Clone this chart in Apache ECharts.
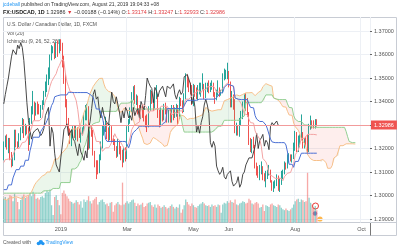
<!DOCTYPE html>
<html>
<head>
<meta charset="utf-8">
<script src="https://cdn.jsdelivr.net/npm/echarts@6/dist/echarts.min.js"></script>
<style>
html, body { margin: 0; padding: 0; background: #fff; }
#chart { width: 400px; height: 251px; }
</style>
</head>
<body>
<div id="chart"></div>
<script>
// daily bars, FXCM USDCAD, 2018-11-09 .. 2019-08-21, then empty future bars
var barCount = 238;
var tickIdx = [37, 80, 123, 146, 189, 232];
var tickText = ['2019', 'Mar', 'May', 'Jun', 'Aug', 'Oct'];
var lastPrice = 1.32986;
var lagShift = 25;   // lagging span drawn 25 bars back, as TradingView does

var openP = [
1.3160,1.3220,1.3230,1.3210,1.3230,1.3170,1.3130,1.3155,1.3270,1.3215,
1.3210,1.3255,1.3280,1.3320,1.3260,1.3290,1.3285,1.3230,1.3320,1.3370,
1.3385,1.3345,1.3385,1.3380,1.3360,1.3370,1.3390,1.3430,1.3465,1.3500,
1.3505,1.3590,1.3620,1.3625,1.3600,1.3640,1.3625,1.3650,1.3630,1.3575,
1.3490,1.3395,1.3320,1.3275,1.3240,1.3265,1.3275,1.3270,1.3285,1.3270,
1.3255,1.3265,1.3285,1.3340,1.3340,1.3375,1.3210,1.3290,1.3265,1.3180,
1.3130,1.3115,1.3100,1.3160,1.3215,1.3280,1.3290,1.3305,1.3255,1.3250,
1.3280,1.3240,1.3230,1.3200,1.3170,1.3220,1.3185,1.3170,1.3150,1.3190,
1.3160,1.3285,1.3315,1.3370,1.3430,1.3450,1.3410,1.3420,1.3360,1.3330,
1.3375,1.3340,1.3320,1.3310,1.3300,1.3370,1.3440,1.3400,1.3390,1.3420,
1.3420,1.3355,1.3310,1.3360,1.3330,1.3375,1.3360,1.3330,1.3340,1.3320,
1.3375,1.3340,1.3360,1.3370,1.3330,1.3400,1.3395,1.3365,1.3425,1.3500,
1.3480,1.3465,1.3455,1.3395,1.3460,1.3445,1.3420,1.3445,1.3450,1.3465,
1.3470,1.3420,1.3465,1.3470,1.3455,1.3460,1.3475,1.3430,1.3410,1.3435,
1.3450,1.3430,1.3440,1.3505,1.3510,1.3515,1.3515,1.3475,1.3390,1.3420,
1.3375,1.3270,1.3295,1.3265,1.3310,1.3335,1.3385,1.3410,1.3385,1.3350,
1.3225,1.3205,1.3230,1.3210,1.3125,1.3105,1.3090,1.3100,1.3120,1.3080,
1.3070,1.3090,1.3095,1.3105,1.3060,1.3040,1.3040,1.3055,1.3080,1.3035,
1.3050,1.3090,1.3100,1.3130,1.3125,1.3160,1.3165,1.3160,1.3165,1.3210,
1.3265,1.3200,1.3235,1.3245,1.3260,1.3210,1.3235,1.3225,1.3195,1.3295,
1.3310,1.3300,1.3295,1.33174
];
var highP = [
1.3230,1.3255,1.3260,1.3245,1.3245,1.3185,1.3170,1.3280,1.3280,1.3230,
1.3265,1.3290,1.3330,1.3325,1.3305,1.3300,1.3290,1.3330,1.3380,1.3445,
1.3400,1.3395,1.3400,1.3390,1.3385,1.3405,1.3445,1.3485,1.3515,1.3545,
1.3600,1.3640,1.3635,1.3650,1.3655,1.3660,1.3665,1.3665,1.3650,1.3595,
1.3520,1.3410,1.3330,1.3285,1.3275,1.3295,1.3300,1.3300,1.3290,1.3285,
1.3290,1.3290,1.3345,1.3385,1.3390,1.3380,1.3305,1.3300,1.3280,1.3190,
1.3150,1.3150,1.3175,1.3230,1.3300,1.3315,1.3335,1.3310,1.3290,1.3305,
1.3295,1.3255,1.3240,1.3210,1.3240,1.3230,1.3210,1.3195,1.3205,1.3205,
1.3295,1.3325,1.3375,1.3440,1.3465,1.3470,1.3430,1.3425,1.3385,1.3385,
1.3385,1.3365,1.3340,1.3345,1.3380,1.3450,1.3445,1.3410,1.3440,1.3470,
1.3425,1.3365,1.3375,1.3365,1.3390,1.3395,1.3375,1.3365,1.3370,1.3385,
1.3385,1.3375,1.3390,1.3385,1.3420,1.3415,1.3405,1.3435,1.3520,1.3515,
1.3495,1.3480,1.3470,1.3475,1.3470,1.3460,1.3470,1.3480,1.3480,1.3520,
1.3475,1.3480,1.3480,1.3490,1.3480,1.3490,1.3480,1.3440,1.3450,1.3490,
1.3460,1.3450,1.3520,1.3540,1.3535,1.3565,1.3530,1.3485,1.3445,1.3430,
1.3410,1.3310,1.3300,1.3330,1.3360,1.3400,1.3430,1.3435,1.3415,1.3355,
1.3245,1.3240,1.3250,1.3215,1.3140,1.3125,1.3130,1.3145,1.3125,1.3095,
1.3105,1.3110,1.3130,1.3110,1.3065,1.3060,1.3065,1.3090,1.3085,1.3075,
1.3105,1.3110,1.3145,1.3140,1.3175,1.3180,1.3175,1.3175,1.3225,1.3275,
1.3270,1.3255,1.3260,1.3345,1.3270,1.3245,1.3250,1.3260,1.3305,1.3340,
1.3320,1.3320,1.3325,1.33247
];
var lowP = [
1.3150,1.3205,1.3195,1.3180,1.3150,1.3120,1.3125,1.3150,1.3205,1.3200,
1.3205,1.3235,1.3265,1.3245,1.3255,1.3260,1.3190,1.3215,1.3305,1.3345,
1.3320,1.3340,1.3345,1.3345,1.3330,1.3365,1.3385,1.3420,1.3440,1.3470,
1.3495,1.3575,1.3605,1.3580,1.3585,1.3590,1.3605,1.3615,1.3545,1.3475,
1.3375,1.3300,1.3260,1.3220,1.3210,1.3245,1.3245,1.3235,1.3230,1.3245,
1.3225,1.3255,1.3270,1.3320,1.3320,1.3195,1.3200,1.3250,1.3170,1.3120,
1.3070,1.3090,1.3095,1.3150,1.3200,1.3255,1.3270,1.3240,1.3230,1.3235,
1.3225,1.3215,1.3190,1.3160,1.3165,1.3175,1.3150,1.3120,1.3140,1.3145,
1.3155,1.3270,1.3305,1.3355,1.3405,1.3390,1.3385,1.3345,1.3320,1.3325,
1.3330,1.3315,1.3290,1.3270,1.3290,1.3360,1.3390,1.3360,1.3370,1.3410,
1.3330,1.3290,1.3300,1.3315,1.3320,1.3345,1.3310,1.3310,1.3310,1.3310,
1.3320,1.3330,1.3335,1.3300,1.3325,1.3380,1.3350,1.3355,1.3410,1.3460,
1.3440,1.3430,1.3385,1.3380,1.3420,1.3410,1.3405,1.3430,1.3420,1.3450,
1.3410,1.3415,1.3440,1.3435,1.3440,1.3450,1.3420,1.3390,1.3405,1.3425,
1.3420,1.3425,1.3435,1.3490,1.3495,1.3495,1.3460,1.3375,1.3375,1.3365,
1.3265,1.3255,1.3255,1.3250,1.3300,1.3325,1.3370,1.3360,1.3335,1.3215,
1.3185,1.3180,1.3200,1.3115,1.3085,1.3075,1.3065,1.3090,1.3065,1.3060,
1.3035,1.3070,1.3085,1.3055,1.3020,1.3015,1.3030,1.3040,1.3020,1.3015,
1.3045,1.3070,1.3090,1.3110,1.3115,1.3140,1.3145,1.3140,1.3155,1.3190,
1.3185,1.3185,1.3205,1.3235,1.3200,1.3200,1.3210,1.3175,1.3185,1.3280,
1.3285,1.3285,1.3285,1.32933
];
var closeP = [
1.3220,1.3230,1.3210,1.3230,1.3170,1.3130,1.3155,1.3270,1.3215,1.3210,
1.3255,1.3280,1.3320,1.3260,1.3290,1.3285,1.3230,1.3320,1.3370,1.3385,
1.3345,1.3385,1.3380,1.3360,1.3370,1.3390,1.3430,1.3465,1.3500,1.3505,
1.3590,1.3620,1.3625,1.3600,1.3640,1.3625,1.3650,1.3630,1.3575,1.3490,
1.3395,1.3320,1.3275,1.3240,1.3265,1.3275,1.3270,1.3285,1.3270,1.3255,
1.3265,1.3285,1.3340,1.3340,1.3375,1.3210,1.3290,1.3265,1.3180,1.3130,
1.3115,1.3100,1.3160,1.3215,1.3280,1.3290,1.3305,1.3255,1.3250,1.3280,
1.3240,1.3230,1.3200,1.3170,1.3220,1.3185,1.3170,1.3150,1.3190,1.3160,
1.3285,1.3315,1.3370,1.3430,1.3450,1.3410,1.3420,1.3360,1.3330,1.3375,
1.3340,1.3320,1.3310,1.3300,1.3370,1.3440,1.3400,1.3390,1.3420,1.3420,
1.3355,1.3310,1.3360,1.3330,1.3375,1.3360,1.3330,1.3340,1.3320,1.3375,
1.3340,1.3360,1.3370,1.3330,1.3400,1.3395,1.3365,1.3425,1.3500,1.3480,
1.3465,1.3455,1.3395,1.3460,1.3445,1.3420,1.3445,1.3450,1.3465,1.3470,
1.3420,1.3465,1.3470,1.3455,1.3460,1.3475,1.3430,1.3410,1.3435,1.3450,
1.3430,1.3440,1.3505,1.3510,1.3515,1.3515,1.3475,1.3390,1.3420,1.3375,
1.3270,1.3295,1.3265,1.3310,1.3335,1.3385,1.3410,1.3385,1.3350,1.3225,
1.3205,1.3230,1.3210,1.3125,1.3105,1.3090,1.3100,1.3120,1.3080,1.3070,
1.3090,1.3095,1.3105,1.3060,1.3040,1.3040,1.3055,1.3080,1.3035,1.3050,
1.3090,1.3100,1.3130,1.3125,1.3160,1.3165,1.3160,1.3165,1.3210,1.3265,
1.3200,1.3235,1.3245,1.3260,1.3210,1.3235,1.3225,1.3195,1.3295,1.3310,
1.3300,1.3295,1.3317,1.32986
];
var volume = [
58,62,55,60,66,64,52,70,61,50,
32,55,63,68,60,62,66,72,64,75,
70,58,60,56,62,64,60,72,78,74,
80,42,18,62,66,55,42,20,72,78,
70,64,58,52,50,46,48,54,50,44,
52,36,56,50,54,64,52,46,54,58,
62,44,50,54,56,50,44,46,40,48,
50,26,42,46,50,44,42,97,44,48,
52,46,50,54,56,48,40,46,42,44,
48,38,40,46,48,50,42,38,44,36,
44,40,36,38,42,38,34,36,40,44,
38,34,38,36,44,24,32,42,56,50,
44,40,46,42,38,36,40,44,46,50,
46,42,40,42,38,44,40,42,38,44,
42,24,44,48,46,52,48,54,50,48,
56,44,42,46,48,52,50,46,48,58,
54,46,44,48,50,46,36,38,44,28,
42,40,38,44,46,42,40,38,44,42,
36,32,30,34,30,28,32,36,44,52,
56,58,50,56,54,50,52,121,60,48,
44,36,40,30
];
// Ichimoku lines
var tenkan = [
1.3140,1.3153,1.3155,1.3155,1.3155,1.3155,1.3155,1.3190,1.3200,1.3200,
1.3200,1.3205,1.3225,1.3225,1.3228,1.3240,1.3260,1.3260,1.3285,1.3318,
1.3318,1.3318,1.3318,1.3318,1.3318,1.3330,1.3375,1.3403,1.3418,1.3438,
1.3465,1.3485,1.3485,1.3508,1.3518,1.3540,1.3553,1.3568,1.3580,1.3570,
1.3520,1.3483,1.3463,1.3443,1.3438,1.3438,1.3430,1.3403,1.3365,1.3310,
1.3270,1.3255,1.3278,1.3305,1.3308,1.3293,1.3293,1.3293,1.3280,1.3255,
1.3230,1.3230,1.3230,1.3225,1.3188,1.3193,1.3203,1.3203,1.3203,1.3213,
1.3215,1.3243,1.3263,1.3248,1.3248,1.3235,1.3228,1.3213,1.3208,1.3188,
1.3208,1.3223,1.3248,1.3280,1.3293,1.3295,1.3305,1.3308,1.3313,1.3370,
1.3388,1.3393,1.3380,1.3370,1.3350,1.3360,1.3360,1.3360,1.3360,1.3370,
1.3370,1.3370,1.3380,1.3380,1.3380,1.3380,1.3380,1.3380,1.3358,1.3343,
1.3348,1.3353,1.3353,1.3348,1.3360,1.3360,1.3360,1.3368,1.3410,1.3410,
1.3410,1.3410,1.3423,1.3435,1.3435,1.3438,1.3450,1.3448,1.3438,1.3450,
1.3450,1.3450,1.3463,1.3463,1.3463,1.3465,1.3465,1.3455,1.3440,1.3440,
1.3440,1.3440,1.3455,1.3465,1.3465,1.3478,1.3485,1.3470,1.3470,1.3465,
1.3415,1.3410,1.3410,1.3408,1.3390,1.3368,1.3348,1.3343,1.3343,1.3325,
1.3310,1.3308,1.3308,1.3275,1.3260,1.3255,1.3240,1.3210,1.3158,1.3155,
1.3143,1.3125,1.3090,1.3090,1.3083,1.3080,1.3073,1.3073,1.3073,1.3073,
1.3073,1.3063,1.3080,1.3080,1.3095,1.3098,1.3098,1.3098,1.3135,1.3173,
1.3183,1.3193,1.3195,1.3243,1.3243,1.3243,1.3250,1.3260,1.3260,1.3260,
1.3260,1.3260,1.3258,1.3258
];
var kijun = [
1.3025,1.3025,1.3025,1.3045,1.3045,1.3045,1.3075,1.3075,1.3110,1.3110,
1.3110,1.3125,1.3125,1.3125,1.3150,1.3150,1.3150,1.3190,1.3215,1.3248,
1.3248,1.3248,1.3248,1.3248,1.3273,1.3283,1.3283,1.3303,1.3318,1.3333,
1.3360,1.3383,1.3395,1.3420,1.3420,1.3425,1.3428,1.3428,1.3428,1.3428,
1.3428,1.3428,1.3440,1.3443,1.3438,1.3438,1.3438,1.3438,1.3438,1.3438,
1.3438,1.3438,1.3438,1.3438,1.3438,1.3430,1.3430,1.3430,1.3418,1.3393,
1.3368,1.3368,1.3368,1.3360,1.3333,1.3295,1.3240,1.3230,1.3230,1.3230,
1.3230,1.3230,1.3230,1.3230,1.3230,1.3230,1.3230,1.3230,1.3230,1.3230,
1.3225,1.3203,1.3223,1.3255,1.3268,1.3270,1.3280,1.3283,1.3295,1.3295,
1.3295,1.3295,1.3295,1.3295,1.3295,1.3295,1.3295,1.3295,1.3295,1.3295,
1.3295,1.3295,1.3295,1.3305,1.3308,1.3313,1.3370,1.3370,1.3370,1.3370,
1.3370,1.3370,1.3370,1.3370,1.3370,1.3370,1.3370,1.3370,1.3395,1.3405,
1.3405,1.3405,1.3405,1.3405,1.3405,1.3405,1.3405,1.3410,1.3410,1.3410,
1.3410,1.3410,1.3410,1.3410,1.3410,1.3410,1.3410,1.3410,1.3410,1.3423,
1.3435,1.3435,1.3438,1.3460,1.3460,1.3473,1.3473,1.3470,1.3470,1.3465,
1.3415,1.3410,1.3410,1.3408,1.3408,1.3408,1.3408,1.3408,1.3408,1.3390,
1.3375,1.3373,1.3373,1.3340,1.3325,1.3320,1.3315,1.3315,1.3315,1.3313,
1.3300,1.3283,1.3260,1.3240,1.3228,1.3225,1.3225,1.3225,1.3225,1.3225,
1.3225,1.3225,1.3225,1.3215,1.3185,1.3133,1.3133,1.3133,1.3120,1.3145,
1.3145,1.3145,1.3145,1.3180,1.3180,1.3180,1.3180,1.3180,1.3180,1.3180,
1.3180,1.3180,1.3180,1.3180
];
// leading spans, already placed 25 bars ahead (index = chart bar)
var spanA = [
1.2985,1.2980,1.2980,1.2985,1.2990,1.2990,1.2990,1.2995,1.2995,
1.2995,1.2990,1.2985,1.2985,1.2990,1.2995,1.3000,1.3000,1.3005,1.3015,
1.3030,1.3045,1.3055,1.3060,1.3070,1.3075,1.3083,1.3089,1.3090,1.3100,
1.3100,1.3100,1.3115,1.3133,1.3155,1.3155,1.3155,1.3165,1.3175,1.3175,
1.3189,1.3195,1.3205,1.3225,1.3250,1.3283,1.3283,1.3283,1.3283,1.3283,
1.3296,1.3307,1.3329,1.3353,1.3368,1.3386,1.3413,1.3434,1.3440,1.3464,
1.3469,1.3483,1.3491,1.3498,1.3504,1.3499,1.3474,1.3456,1.3452,1.3443,
1.3438,1.3438,1.3434,1.3421,1.3402,1.3374,1.3354,1.3347,1.3358,1.3372,
1.3373,1.3362,1.3362,1.3362,1.3349,1.3324,1.3299,1.3299,1.3299,1.3293,
1.3261,1.3244,1.3222,1.3217,1.3217,1.3222,1.3223,1.3237,1.3247,1.3239,
1.3239,1.3233,1.3229,1.3222,1.3219,1.3209,1.3217,1.3213,1.3236,1.3268,
1.3281,1.3283,1.3293,1.3296,1.3304,1.3333,1.3342,1.3344,1.3338,1.3333,
1.3323,1.3328,1.3328,1.3328,1.3328,1.3333,1.3333,1.3333,1.3338,1.3343,
1.3344,1.3347,1.3375,1.3375,1.3364,1.3357,1.3359,1.3362,1.3362,1.3359,
1.3365,1.3365,1.3365,1.3369,1.3403,1.3408,1.3408,1.3408,1.3414,1.3420,
1.3420,1.3422,1.3428,1.3429,1.3424,1.3430,1.3430,1.3430,1.3437,1.3437,
1.3437,1.3438,1.3438,1.3433,1.3425,1.3432,1.3438,1.3438,1.3447,1.3463,
1.3463,1.3476,1.3479,1.3470,1.3470,1.3465,1.3415,1.3410,1.3410,1.3408,
1.3399,1.3388,1.3378,1.3376,1.3376,1.3358,1.3343,1.3341,1.3341,1.3308,
1.3293,1.3288,1.3278,1.3263,1.3237,1.3234,1.3222,1.3204,1.3175,1.3165,
1.3156,1.3153,1.3149,1.3149,1.3149,1.3149,1.3149,1.3144,1.3153,1.3148,
1.3140,1.3116,1.3116,1.3116,1.3128,1.3159,1.3164,1.3169,1.3170,1.3212,
1.3212,1.3212,1.3215,1.3220,1.3220,1.3220,1.3220,1.3220,1.3219,1.3219
];
var spanB = [
1.3010,1.3010,1.3010,1.3010,1.3010,1.3010,1.3010,1.3010,1.3010,
1.3010,1.3010,1.3010,1.3010,1.3010,1.3010,1.3010,1.3010,1.3010,1.3010,
1.3010,1.3010,1.3010,1.3010,1.3010,1.3010,1.3005,1.3020,1.3020,1.3020,
1.3020,1.3020,1.3020,1.3030,1.3030,1.3030,1.3030,1.3030,1.3055,1.3055,
1.3055,1.3055,1.3055,1.3055,1.3055,1.3113,1.3113,1.3113,1.3113,1.3123,
1.3138,1.3148,1.3173,1.3203,1.3218,1.3243,1.3270,1.3290,1.3290,1.3305,
1.3305,1.3310,1.3313,1.3313,1.3358,1.3358,1.3358,1.3358,1.3358,1.3358,
1.3358,1.3358,1.3358,1.3358,1.3358,1.3358,1.3383,1.3393,1.3393,1.3393,
1.3393,1.3393,1.3393,1.3395,1.3408,1.3393,1.3368,1.3368,1.3368,1.3368,
1.3368,1.3368,1.3368,1.3368,1.3368,1.3368,1.3368,1.3368,1.3368,1.3368,
1.3368,1.3368,1.3368,1.3368,1.3368,1.3368,1.3368,1.3368,1.3368,1.3368,
1.3368,1.3368,1.3368,1.3368,1.3368,1.3360,1.3333,1.3295,1.3270,1.3270,
1.3270,1.3270,1.3270,1.3270,1.3270,1.3270,1.3270,1.3270,1.3270,1.3270,
1.3270,1.3270,1.3270,1.3270,1.3270,1.3270,1.3270,1.3270,1.3280,1.3283,
1.3295,1.3295,1.3295,1.3295,1.3320,1.3320,1.3320,1.3320,1.3320,1.3320,
1.3320,1.3320,1.3320,1.3320,1.3320,1.3330,1.3333,1.3338,1.3395,1.3395,
1.3395,1.3395,1.3395,1.3395,1.3395,1.3395,1.3395,1.3395,1.3395,1.3405,
1.3405,1.3428,1.3428,1.3428,1.3428,1.3428,1.3415,1.3410,1.3410,1.3408,
1.3408,1.3408,1.3408,1.3408,1.3408,1.3390,1.3375,1.3373,1.3373,1.3340,
1.3325,1.3320,1.3315,1.3315,1.3315,1.3313,1.3300,1.3300,1.3300,1.3300,
1.3293,1.3290,1.3290,1.3290,1.3290,1.3290,1.3290,1.3290,1.3290,1.3290,
1.3290,1.3290,1.3290,1.3290,1.3290,1.3290,1.3290,1.3290,1.3290,1.3290,
1.3290,1.3290,1.3290,1.3273,1.3250,1.3230,1.3225,1.3225,1.3225,1.3225
];

// weekday calendar for the category axis
var dates = [];
var day = new Date(Date.UTC(2018, 10, 9));
while (dates.length < barCount) {
  var wd = day.getUTCDay();
  if (wd !== 0 && wd !== 6) dates.push(day.toISOString().slice(0, 10));
  day.setUTCDate(day.getUTCDate() + 1);
}

var candles = [], volBars = [];
for (var i = 0; i < closeP.length; i++) {
  candles.push([openP[i], closeP[i], lowP[i], highP[i]]);
  var up = closeP[i] >= openP[i];
  volBars.push({ value: volume[i], itemStyle: { color: up ? 'rgba(38,166,154,0.5)' : 'rgba(239,83,80,0.5)' } });
}
var lagging = closeP.slice(lagShift);

// cloud = base + coloured thickness
var cloudBase = [], cloudUp = [], cloudDn = [];
for (var j = 0; j < spanA.length; j++) {
  cloudBase.push(Math.min(spanA[j], spanB[j]));
  cloudUp.push(spanA[j] > spanB[j] ? spanA[j] - spanB[j] : 0);
  cloudDn.push(spanB[j] > spanA[j] ? spanB[j] - spanA[j] : 0);
}

var FONT = 'Liberation Sans';
function isTick(idx) { return tickIdx.indexOf(idx) >= 0; }
function hidden(extra) {
  var s = { type: 'line', xAxisIndex: 0, yAxisIndex: 0, symbol: 'none', silent: true,
    lineStyle: { opacity: 0 } };
  for (var k in extra) s[k] = extra[k];
  return s;
}
function label(x, y, text, fill) {
  return { type: 'text', x: x, y: y, silent: true, style: { text: text,
    fill: fill || '#555', fontSize: 5, fontFamily: FONT, verticalAlign: 'middle' } };
}

var chart = echarts.init(document.getElementById('chart'));
chart.setOption({
  animation: false,
  textStyle: { fontFamily: FONT },
  grid: [
    { left: 3, right: 30, top: 7.5, bottom: 8.5 },
    { left: 3, right: 30, top: 17, bottom: 28.5 }
  ],
  xAxis: [
    { type: 'category', gridIndex: 0, data: dates, show: false },
    { type: 'category', gridIndex: 1, data: dates, boundaryGap: true,
      axisLine: { show: false }, axisTick: { show: false },
      axisLabel: { interval: function(idx) { return isTick(idx); },
        formatter: function(v, idx) { return tickText[tickIdx.indexOf(idx)]; },
        color: '#555', fontSize: 5.5, margin: 4 },
      splitLine: { show: true, interval: function(idx) { return isTick(idx); },
        lineStyle: { color: '#edf0f5', width: 1 } } }
  ],
  yAxis: [
    { type: 'value', gridIndex: 0, position: 'right', min: 1.28, max: 1.38, interval: 0.01,
      axisLine: { show: false },
      axisTick: { show: true, length: 2, lineStyle: { color: '#666' } },
      axisLabel: { color: '#555', fontSize: 5.5, margin: 4, showMinLabel: false, showMaxLabel: false,
        formatter: function(v) { return v.toFixed(5); } },
      splitLine: { show: true, showMinLine: false, showMaxLine: false, lineStyle: { color: '#edf0f5' } } },
    { type: 'value', gridIndex: 1, min: 0, max: 500, show: false }
  ],
  series: [
    { type: 'bar', xAxisIndex: 1, yAxisIndex: 1, data: volBars, barWidth: '85%', silent: true },
    hidden({ data: cloudBase, stack: 'g' }),
    hidden({ data: cloudUp, stack: 'g', areaStyle: { color: 'rgba(76,175,80,0.16)' } }),
    hidden({ data: cloudBase, stack: 'r' }),
    hidden({ data: cloudDn, stack: 'r', areaStyle: { color: 'rgba(244,67,54,0.13)' } }),
    { type: 'line', data: spanA, symbol: 'none', silent: true, lineStyle: { color: '#f7c08a', width: 1 } },
    { type: 'line', data: spanB, symbol: 'none', silent: true, lineStyle: { color: '#93cf93', width: 1 } },
    { type: 'candlestick', data: candles, barWidth: 1,
      itemStyle: { color: '#26a69a', color0: '#ef5350', borderColor: '#26a69a', borderColor0: '#ef5350', borderWidth: 1 },
      markLine: { silent: true, symbol: ['none', 'none'], animation: false,
        lineStyle: { color: '#f29b9b', width: 1, type: 'solid' },
        label: { show: true, position: 'end', distance: 1, formatter: lastPrice.toFixed(5),
          color: '#fff', backgroundColor: '#ef5350', fontSize: 5.5, padding: [2, 3, 1, 3] },
        data: [{ yAxis: lastPrice }] } },
    { type: 'line', data: lagging, symbol: 'none', silent: true, lineStyle: { color: '#333', width: 0.9 } },
    { type: 'line', data: tenkan, symbol: 'none', silent: true, lineStyle: { color: '#f3a3a3', width: 1 } },
    { type: 'line', data: kijun, symbol: 'none', silent: true, lineStyle: { color: '#4a6fd4', width: 1 } }
  ],
  graphic: [
    { type: 'rect', shape: { x: 3.5, y: 17.5, width: 393, height: 218 }, silent: true,
      style: { fill: 'none', stroke: '#c8ccd4', lineWidth: 1 } },
    { type: 'line', shape: { x1: 370.5, y1: 17.5, x2: 370.5, y2: 235.5 }, silent: true,
      style: { stroke: '#777', lineWidth: 1 } },
    { type: 'line', shape: { x1: 3.5, y1: 222.5, x2: 396.5, y2: 222.5 }, silent: true,
      style: { stroke: '#c8ccd4', lineWidth: 1 } },
    { type: 'text', x: 3, y: 5, silent: true, style: {
      text: '{a|jcdeball}{b| published on TradingView.com, August 21, 2019 19:04:33 +08}',
      verticalAlign: 'middle', fontFamily: FONT, fontSize: 5,
      rich: { a: { fill: '#2196f3', fontSize: 5, fontFamily: FONT }, b: { fill: '#333', fontSize: 5, fontFamily: FONT } } } },
    { type: 'text', x: 3, y: 13, silent: true, style: {
      text: '{k|FX:USDCAD, 1D} {n|1.32986} {r|▼} {n|−0.00188 (−0.14%)} {n|O:}{r|1.33174} {n|H:}{r|1.33247} {n|L:}{r|1.32933} {n|C:}{r|1.32986}',
      verticalAlign: 'middle', fontFamily: FONT, fontSize: 5.4,
      rich: { k: { fill: '#222', fontWeight: 'bold', fontSize: 5.4, fontFamily: FONT },
        n: { fill: '#333', fontSize: 5.4, fontFamily: FONT },
        r: { fill: '#e0393e', fontSize: 5.4, fontFamily: FONT } } } },
    label(7, 25, 'U.S. Dollar / Canadian Dollar, 1D, FXCM'),
    label(7, 33.5, 'Vol (20)'),
    label(7, 41.5, 'Ichimoku (9, 26, 52, 26)'),
    // event badges near the last bars
    { type: 'circle', shape: { cx: 315.5, cy: 206, r: 3 }, silent: true,
      style: { fill: '#fff', stroke: '#e53935', lineWidth: 1 } },
    { type: 'circle', shape: { cx: 315, cy: 213.5, r: 2.2 }, silent: true, style: { fill: '#7986cb' } },
    { type: 'circle', shape: { cx: 320, cy: 219, r: 2.6 }, silent: true, style: { fill: '#ffb74d' } },
    label(3, 243, 'Created with'),
    { type: 'circle', shape: { cx: 38.5, cy: 243.5, r: 1.8 }, silent: true, style: { fill: '#2196f3' } },
    { type: 'circle', shape: { cx: 40.8, cy: 242.3, r: 2.2 }, silent: true, style: { fill: '#2196f3' } },
    { type: 'circle', shape: { cx: 43, cy: 243.6, r: 1.6 }, silent: true, style: { fill: '#2196f3' } },
    label(45.5, 243, 'TradingView', '#2196f3')
  ]
});
</script>
</body>
</html>
